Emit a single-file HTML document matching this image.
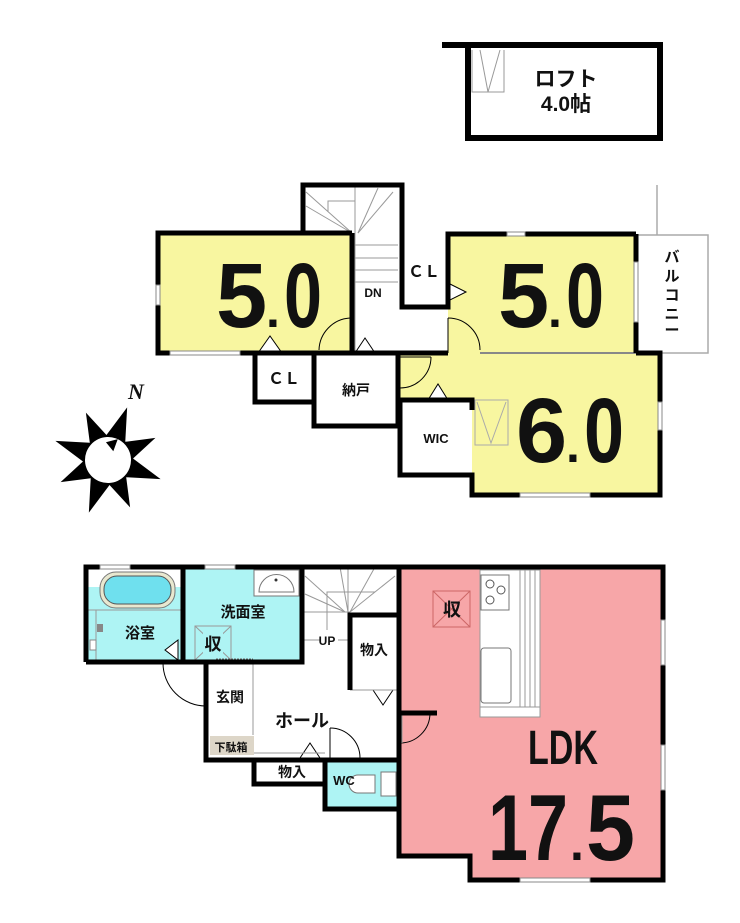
<!DOCTYPE html>
<html><head><meta charset="utf-8"><style>
html,body{margin:0;padding:0;background:#fff}
svg{display:block}
text{font-family:"Liberation Sans","Noto Sans CJK JP",sans-serif;font-weight:bold;fill:#111}
</style></head><body>
<svg width="740" height="923" viewBox="0 0 740 923" xmlns="http://www.w3.org/2000/svg">
<!-- LOFT -->
<g>
<line x1="442" y1="45" x2="663" y2="45" stroke="#000" stroke-width="6"/>
<rect x="468" y="45" width="192" height="93" fill="#fff" stroke="#000" stroke-width="6"/>
<polyline points="472,50 472,92 504,92 504,50" fill="none" stroke="#999" stroke-width="1"/>
<polyline points="480,50 488,92 500,50" fill="none" stroke="#999" stroke-width="1"/>
<text x="566" y="86" font-size="21" text-anchor="middle">ロフト</text>
<text x="566" y="111" font-size="21" text-anchor="middle">4.0帖</text>
</g>

<!-- SECOND FLOOR -->
<g>
<rect x="636" y="235" width="72" height="118" fill="#fff" stroke="#aaa" stroke-width="1.5"/>
<line x1="657" y1="185" x2="657" y2="235" stroke="#aaa" stroke-width="1.5"/>
<text x="672" y="262" font-size="15" text-anchor="middle">バ</text>
<text x="672" y="281" font-size="15" text-anchor="middle">ル</text>
<text x="672" y="300" font-size="15" text-anchor="middle">コ</text>
<text x="672" y="319" font-size="15" text-anchor="middle">ニ</text>
<text x="672" y="335" font-size="15" text-anchor="middle">ー</text>
<rect x="158" y="234" width="194" height="119" fill="#f8f6a0"/>
<rect x="448" y="234" width="188" height="119" fill="#f8f6a0"/>
<polygon points="398,353 660,353 660,495 472,495 472,400 398,400" fill="#f8f6a0"/>
<rect x="303" y="185" width="99" height="48" fill="#fff"/>
<g stroke="#999" stroke-width="1" fill="none">
<polyline points="328,212 328,201 355,201 355,233"/>
<line x1="355" y1="187" x2="355" y2="233"/>
<line x1="306" y1="192" x2="352" y2="233"/>
<line x1="306" y1="206" x2="352" y2="233"/>
<line x1="393" y1="192" x2="358" y2="233"/>
<line x1="378" y1="188" x2="358" y2="233"/>
<line x1="355" y1="245" x2="398" y2="245"/>
<line x1="355" y1="258" x2="398" y2="258"/>
<line x1="355" y1="270" x2="398" y2="270"/>
<line x1="355" y1="282" x2="398" y2="282"/>
<line x1="355" y1="233" x2="355" y2="353"/>
<line x1="480" y1="353" x2="636" y2="353" stroke="#888" stroke-width="2"/>
</g>
<text x="373" y="297" font-size="12" text-anchor="middle" font-weight="normal">DN</text>
<g stroke="#000" stroke-width="1" fill="none">
<path d="M319,350 A33,33 0 0 1 350,318"/>
<line x1="350" y1="318" x2="350" y2="353"/>
<path d="M448,318 A32,32 0 0 1 480,350"/>
<line x1="448" y1="318" x2="448" y2="353"/>
<path d="M400,388 A31,31 0 0 0 431,357"/>
<line x1="400" y1="357" x2="431" y2="357"/>
<polygon points="258,353 270,336 282,353" fill="#fff"/>
<polygon points="355,353 365,338 375,353" fill="#fff"/>
<polygon points="448,283 466,292 448,301" fill="#fff"/>
<polygon points="428,400 438,384 448,400" fill="#fff"/>
</g>
<g stroke="#aaa" stroke-width="1" fill="none">
<rect x="475" y="400" width="33" height="45"/>
<polyline points="477,402 491,443 506,402"/>
</g>
<g stroke="#000" stroke-width="5" fill="none" stroke-linejoin="miter">
<polyline points="303,233 303,185 402,185 402,307 448,307 448,234 636,234"/>
<polyline points="352,233 158,233 158,353 352,353"/>
<line x1="352" y1="233" x2="352" y2="353"/>
<line x1="636" y1="234" x2="636" y2="353"/>
<polyline points="636,353 660,353 660,495 472,495 472,475 400,475 400,400 472,400 472,410"/>
<line x1="398" y1="353" x2="448" y2="353"/>
<polyline points="255,353 255,402 314,402 314,426 398,426 398,353"/>
<line x1="314" y1="353" x2="314" y2="402"/>
<line x1="314" y1="353" x2="398" y2="353"/>
</g>
<g stroke="#888" stroke-width="1" fill="#fff">
<rect x="156" y="285" width="4" height="20"/>
<rect x="507" y="232" width="18" height="4"/>
<rect x="658" y="402" width="4" height="28"/>
<rect x="520" y="493" width="70" height="4"/>
<rect x="634" y="262" width="4" height="60"/>
<rect x="170" y="351" width="70" height="4"/>
</g>
<text x="216" y="327" font-size="92">5</text><text x="266" y="327" font-size="50">.</text><text x="284" y="327" font-size="92" textLength="38" lengthAdjust="spacingAndGlyphs">0</text>
<text x="498" y="327" font-size="92">5</text><text x="548" y="327" font-size="50">.</text><text x="566" y="327" font-size="92" textLength="38" lengthAdjust="spacingAndGlyphs">0</text>
<text x="516" y="462" font-size="92">6</text><text x="566" y="462" font-size="50">.</text><text x="584" y="462" font-size="92" textLength="40" lengthAdjust="spacingAndGlyphs">0</text>
<text x="424" y="277" font-size="16" text-anchor="middle">ＣＬ</text>
<text x="284" y="384" font-size="16" text-anchor="middle">ＣＬ</text>
<text x="356" y="395" font-size="14" text-anchor="middle">納戸</text>
<text x="436" y="443" font-size="13" text-anchor="middle">WIC</text>
</g>

<!-- COMPASS -->
<g transform="translate(108,460) rotate(20)">
<polygon fill="#000" points="0,-56 10,-23 37,-37 23,-10 56,0 23,10 37,37 10,23 0,56 -10,23 -37,37 -23,10 -56,0 -23,-10 -37,-37 -10,-23"/>
<circle r="23" fill="#fff"/>
<polygon points="2,-23 -8,-16 2,-10" fill="#000"/>
</g>
<text x="128" y="399" font-size="22" font-style="italic" font-weight="normal" style="font-family:'Liberation Serif',serif">N</text>

<!-- FIRST FLOOR -->
<g>
<rect x="86" y="567" width="97" height="95" fill="#aef4f4"/>
<rect x="86" y="567" width="97" height="20" fill="#fff"/>
<rect x="183" y="567" width="119" height="95" fill="#aef4f4"/>
<polygon points="399,567 663,567 663,880 470,880 470,856 399,856" fill="#f7a6a8"/>
<rect x="325" y="760" width="72" height="49" fill="#aef4f4"/>
<rect x="100" y="572" width="75" height="36" rx="16" fill="#e8e8d0" stroke="#777" stroke-width="1"/>
<rect x="104" y="576" width="67" height="28" rx="13" fill="#6fe0ee" stroke="#555" stroke-width="1"/>
<line x1="86" y1="610" x2="183" y2="610" stroke="#999" stroke-width="1"/>
<line x1="96" y1="610" x2="96" y2="662" stroke="#999"/>
<rect x="97" y="624" width="6" height="8" fill="#888"/>
<rect x="90" y="640" width="6" height="10" fill="#fff" stroke="#888"/>
<polygon points="165,650 178,640 178,660" fill="#fff" stroke="#000" stroke-width="1"/>
<rect x="254" y="570" width="45" height="26" fill="#fff" stroke="#777"/>
<path d="M259,592 A17,17 0 0 1 294,592 Z" fill="#fff" stroke="#777"/>
<circle cx="276" cy="580" r="1.5" fill="#333"/>
<g stroke="#999" stroke-width="1" fill="none">
<rect x="195" y="626" width="36" height="34"/>
<line x1="195" y1="626" x2="231" y2="660"/><line x1="231" y1="626" x2="195" y2="660"/>
</g>
<rect x="203" y="630" width="20" height="26" fill="#aef4f4"/>
<line x1="216" y1="660" x2="253" y2="660" stroke="#666" stroke-width="3" stroke-dasharray="2,1"/>
<g stroke="#999" stroke-width="1" fill="none">
<polyline points="327,612 327,592 375,592"/>
<line x1="348" y1="567" x2="348" y2="612"/>
<line x1="305" y1="576" x2="345" y2="612"/>
<line x1="305" y1="594" x2="345" y2="612"/>
<line x1="340" y1="567" x2="348" y2="612"/>
<line x1="395" y1="576" x2="350" y2="612"/>
<line x1="375" y1="567" x2="350" y2="612"/>
<line x1="304" y1="612" x2="350" y2="612"/>
<line x1="304" y1="640" x2="320" y2="640"/><line x1="338" y1="640" x2="350" y2="640"/>
<line x1="327" y1="612" x2="327" y2="630"/>
</g>
<text x="327" y="645" font-size="12" text-anchor="middle" font-weight="normal">UP</text>
<rect x="480" y="570" width="60" height="147" fill="#fff" stroke="#999"/>
<rect x="481" y="575" width="28" height="35" fill="#fff" stroke="#777"/>
<circle cx="490" cy="584" r="4" fill="none" stroke="#555"/><circle cx="501" cy="590" r="4" fill="none" stroke="#555"/><circle cx="490" cy="600" r="4" fill="none" stroke="#555"/>
<rect x="481" y="648" width="30" height="55" rx="3" fill="#fff" stroke="#777"/>
<g stroke="#999"><line x1="520" y1="570" x2="520" y2="707"/><line x1="525" y1="570" x2="525" y2="707"/><line x1="530" y1="570" x2="530" y2="707"/><line x1="535" y1="570" x2="535" y2="707"/><line x1="480" y1="707" x2="540" y2="707"/></g>
<g stroke="#c66" stroke-width="1" fill="none">
<rect x="433" y="591" width="37" height="36"/>
<line x1="433" y1="591" x2="470" y2="627"/><line x1="470" y1="591" x2="433" y2="627"/>
</g>
<text x="452" y="616" font-size="18" text-anchor="middle">収</text>
<g stroke="#000" stroke-width="1" fill="none">
<path d="M163,663 A43,43 0 0 0 206,706"/>
<path d="M399,743 A30,30 0 0 0 430,713"/>
<line x1="402" y1="713" x2="402" y2="743" stroke="#999"/>
<path d="M330,728 A30,30 0 0 1 360,758"/>
<line x1="330" y1="728" x2="330" y2="758"/>
<polygon points="373,690 383,705 393,690" fill="#fff"/>
<polygon points="300,758 310,743 320,758" fill="#fff"/>
</g>
<g stroke="#999" stroke-width="1"><line x1="350" y1="690" x2="397" y2="690"/><line x1="253" y1="664" x2="253" y2="735"/><line x1="254" y1="753" x2="325" y2="753"/></g>
<rect x="210" y="736" width="44" height="19" fill="#ddd6c8"/>
<text x="231" y="751" font-size="11" text-anchor="middle">下駄箱</text>
<path d="M375,775 L358,775 A9,9 0 0 0 358,793 L375,793 Z" fill="#fff" stroke="#777"/>
<rect x="381" y="772" width="15" height="24" fill="#fff" stroke="#777"/>
<g stroke="#000" stroke-width="5" fill="none">
<polyline points="86,662 86,567 663,567 663,880 470,880 470,856 399,856 399,567"/>
<polyline points="86,662 206,662 206,760 399,760"/>
<line x1="183" y1="567" x2="183" y2="662"/>
<polyline points="206,662 302,662 302,567"/>
<polyline points="350,690 350,615 399,615"/>
<line x1="399" y1="713" x2="437" y2="713"/>
<polyline points="254,760 254,784 325,784"/>
<polyline points="325,760 325,809 399,809"/>
</g>
<g stroke="#888" stroke-width="1" fill="#fff">
<rect x="100" y="565" width="30" height="4"/>
<rect x="205" y="565" width="30" height="4"/>
<rect x="661" y="620" width="4" height="45"/>
<rect x="661" y="745" width="4" height="45"/>
<rect x="520" y="878" width="70" height="4"/>
</g>
<text x="140" y="638" font-size="15" text-anchor="middle">浴室</text>
<text x="243" y="617" font-size="15" text-anchor="middle">洗面室</text>
<text x="213" y="650" font-size="17" text-anchor="middle">収</text>
<text x="230" y="702" font-size="14" text-anchor="middle">玄関</text>
<text x="374" y="655" font-size="14" text-anchor="middle">物入</text>
<text x="292" y="777" font-size="14" text-anchor="middle">物入</text>
<text x="302" y="727" font-size="18" text-anchor="middle">ホール</text>
<text x="344" y="785" font-size="13" text-anchor="middle">WC</text>
<text x="563" y="764" font-size="48" text-anchor="middle" font-weight="normal" textLength="70" lengthAdjust="spacingAndGlyphs">LDK</text>
<text x="488" y="860" font-size="94" textLength="80" lengthAdjust="spacingAndGlyphs">17</text>
<text x="570" y="860" font-size="50">.</text>
<text x="586" y="860" font-size="94" textLength="49" lengthAdjust="spacingAndGlyphs">5</text>
</g>
</svg>
</body></html>
